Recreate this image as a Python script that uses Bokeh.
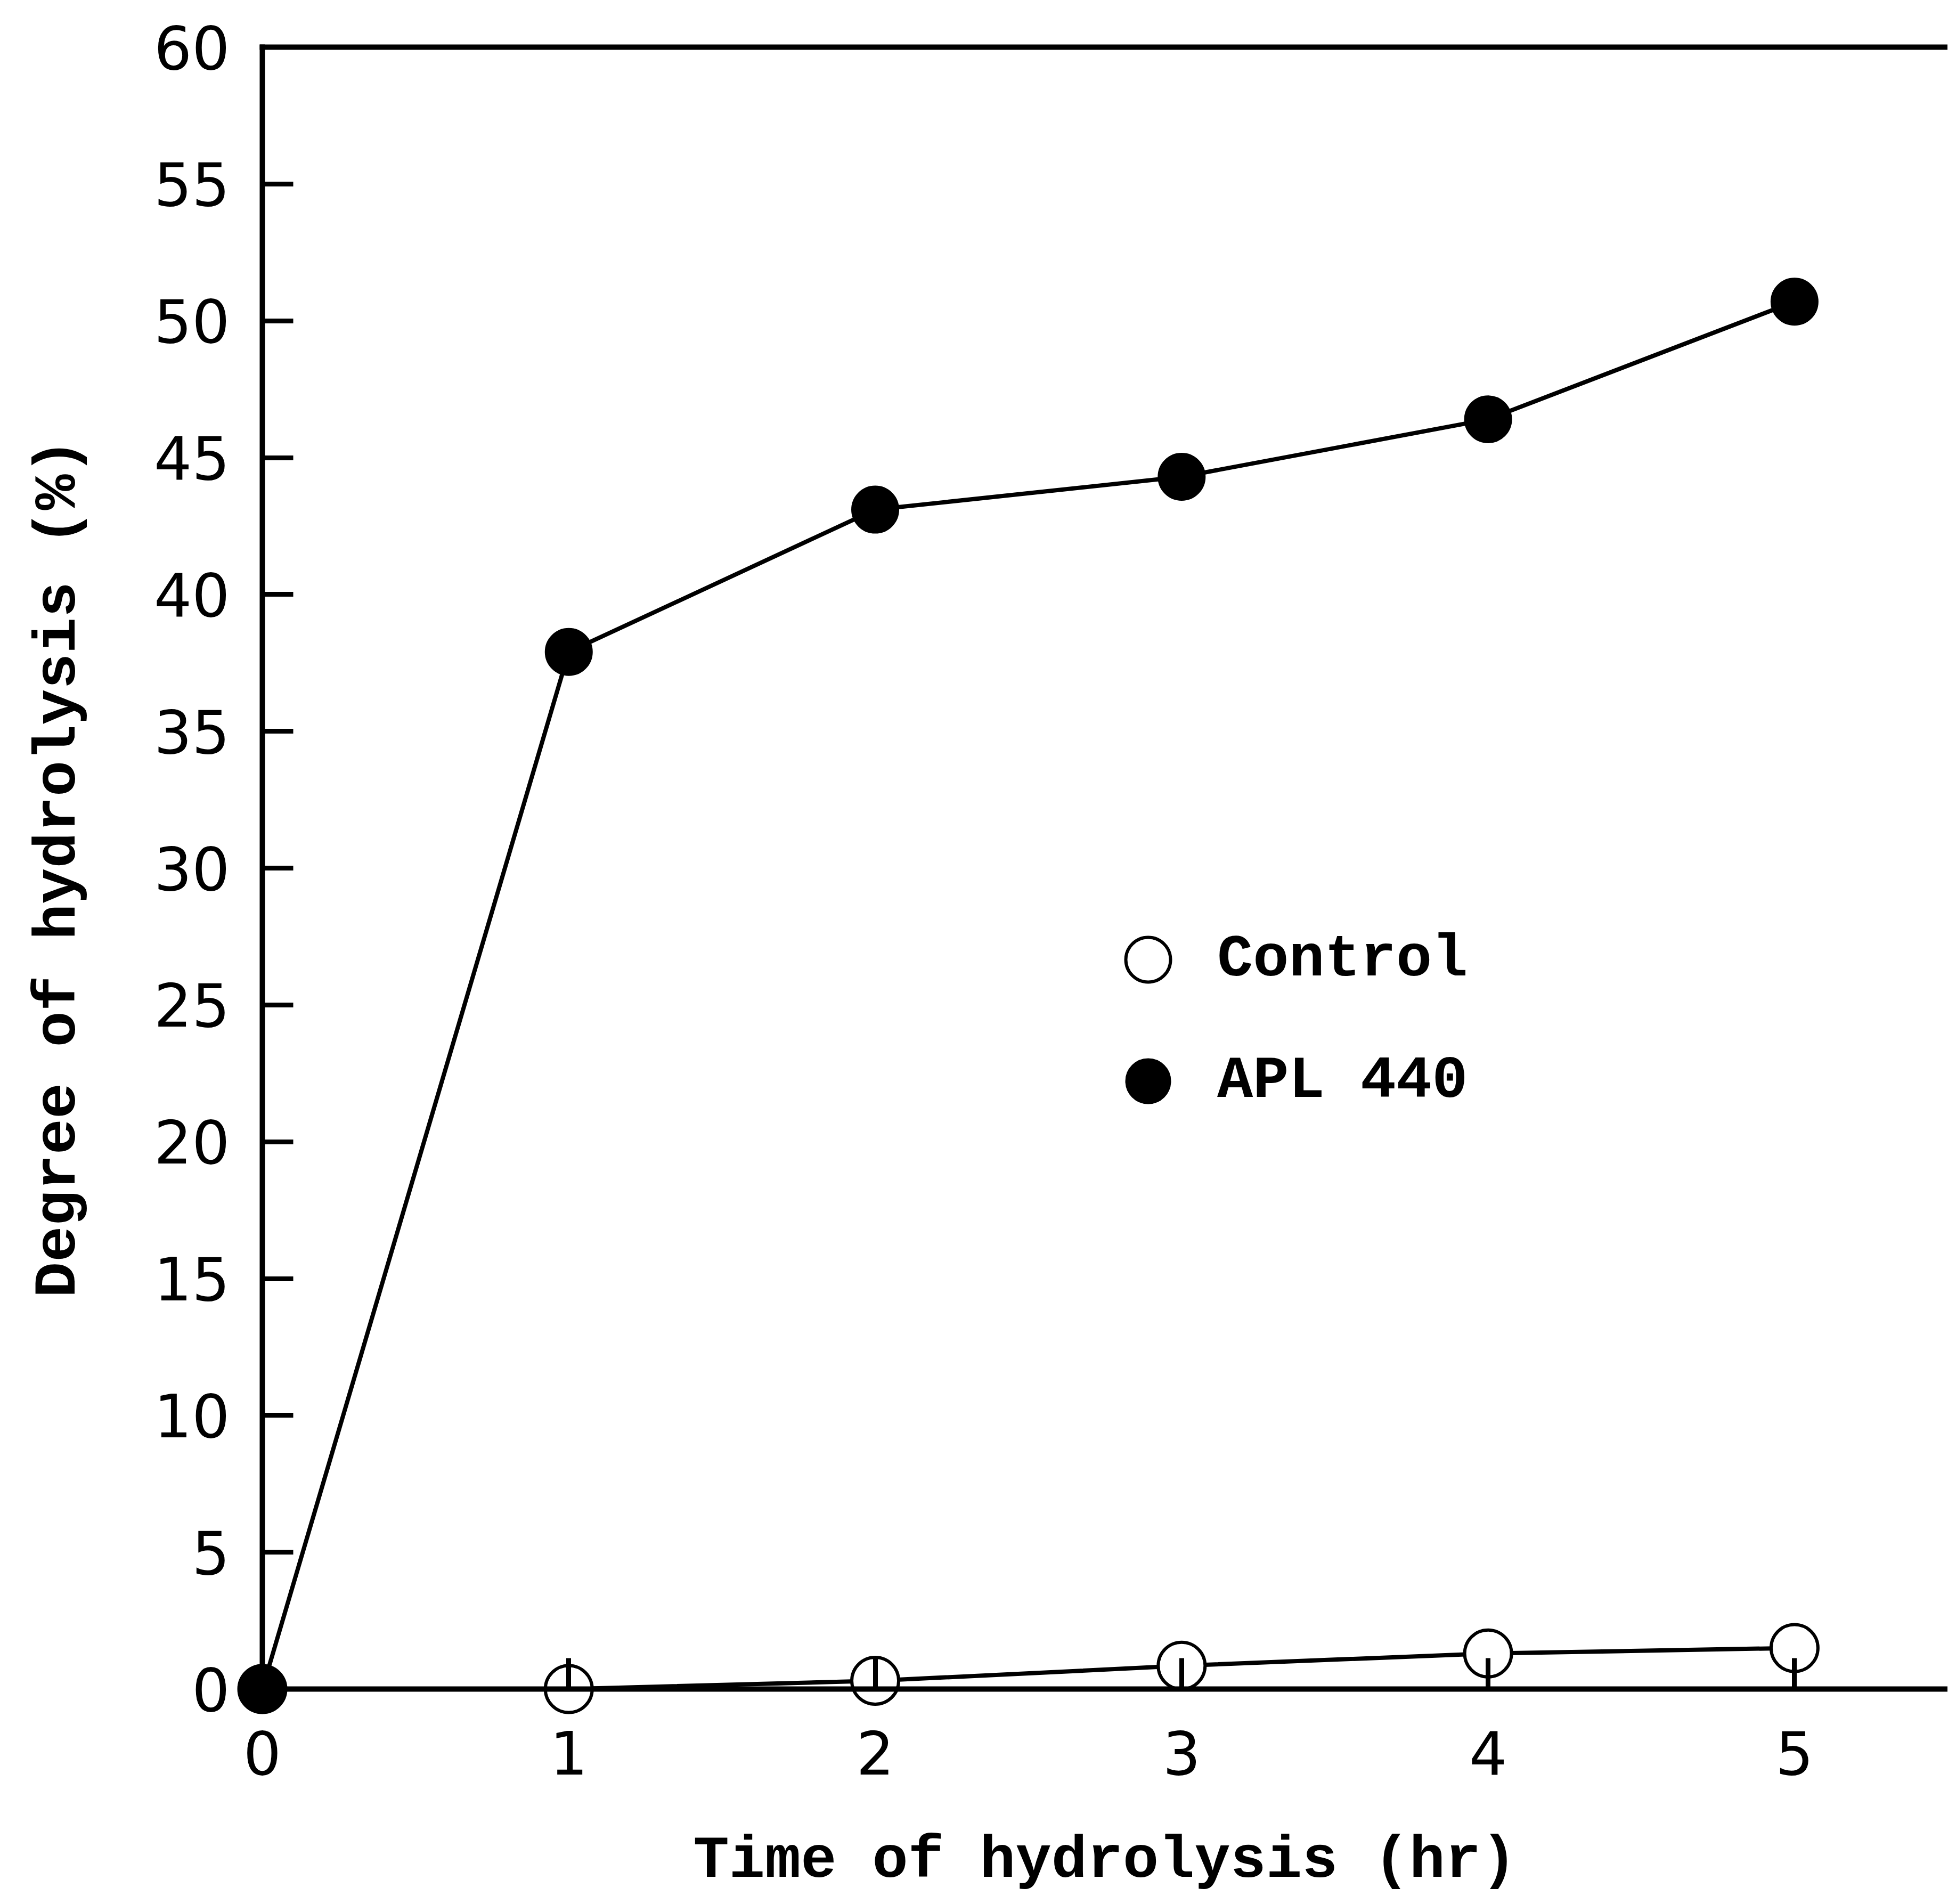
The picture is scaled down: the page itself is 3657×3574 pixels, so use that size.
from bokeh.plotting import figure
from bokeh.models import Range1d, FixedTicker, LinearAxis, Legend, LegendItem
from bokeh.embed import file_html
from bokeh.resources import INLINE

# Degree of hydrolysis (%) against time of hydrolysis (hr)
hours = [0, 1, 2, 3, 4, 5]
control = [0.0, 0.0, 0.3, 0.85, 1.3, 1.5]
apl440 = [0.0, 37.9, 43.1, 44.3, 46.4, 50.7]

x_ticks = [0, 1, 2, 3, 4, 5]
y_ticks = [0, 5, 10, 15, 20, 25, 30, 35, 40, 45, 50, 55, 60]

W, H = 3656, 3572
FRAME_LEFT, FRAME_TOP, FRAME_BOTTOM = 492, 88, 3170

p = figure(
    width=W, height=H,
    x_range=Range1d(0, 5.5), y_range=Range1d(0, 60),
    output_backend="svg", toolbar_location=None,
    min_border_left=FRAME_LEFT, min_border_right=0,
    min_border_top=FRAME_TOP, min_border_bottom=H - FRAME_BOTTOM,
)
p.outline_line_color = None
p.xgrid.visible = False
p.ygrid.visible = False
p.background_fill_color = "white"
p.border_fill_color = "white"

p.xaxis.ticker = FixedTicker(ticks=x_ticks)
p.yaxis.ticker = FixedTicker(ticks=y_ticks)
p.xaxis.axis_label = "Time of hydrolysis (hr)"
p.yaxis.axis_label = "Degree of hydrolysis (%)"

for ax in (p.xaxis[0], p.yaxis[0]):
    ax.axis_line_width = 10
    ax.axis_line_cap = "square"
    ax.major_tick_line_width = 9
    ax.major_tick_in = 58
    ax.major_tick_out = 0
    ax.minor_tick_line_color = None
    ax.major_label_text_font = "DejaVu Sans"
    ax.major_label_text_font_size = "112px"
    ax.major_label_text_color = "black"
    ax.axis_label_text_font = "Liberation Mono"
    ax.axis_label_text_font_size = "112px"
    ax.axis_label_text_font_style = "bold"
    ax.axis_label_text_color = "black"

p.xaxis.major_label_standoff = 78
p.xaxis.axis_label_standoff = 96
p.yaxis.major_label_standoff = 61
p.yaxis.axis_label_standoff = 112

# top edge of the frame
top = LinearAxis(
    ticker=FixedTicker(ticks=[]),
    major_label_text_font_size="0px",
    axis_line_width=10, axis_line_cap="square",
    major_tick_in=0, major_tick_out=0,
    minor_tick_in=0, minor_tick_out=0,
)
p.add_layout(top, "above")

# series
p.line(hours, apl440, line_width=8, line_color="black")
p.line(hours, control, line_width=8, line_color="black")
ctrl = p.scatter(hours, control, size=88, marker="circle",
                 fill_color="white", line_color="black", line_width=6,
                 level="guide")
apl = p.scatter(hours, apl440, size=88, marker="circle",
                fill_color="black", line_color="black", line_width=2,
                level="overlay")

legend = Legend(
    items=[LegendItem(label="Control", renderers=[ctrl]),
           LegendItem(label="APL 440", renderers=[apl])],
    location=(2050 - FRAME_LEFT, FRAME_BOTTOM - 2134),
    border_line_color=None, background_fill_alpha=0,
    label_text_font="Liberation Mono", label_text_font_size="112px",
    label_text_font_style="bold", label_text_color="black",
    glyph_width=210, glyph_height=210, label_standoff=25,
    spacing=18, padding=0, margin=0,
)
p.add_layout(legend)

open("out.html", "w").write(file_html(p, INLINE))
